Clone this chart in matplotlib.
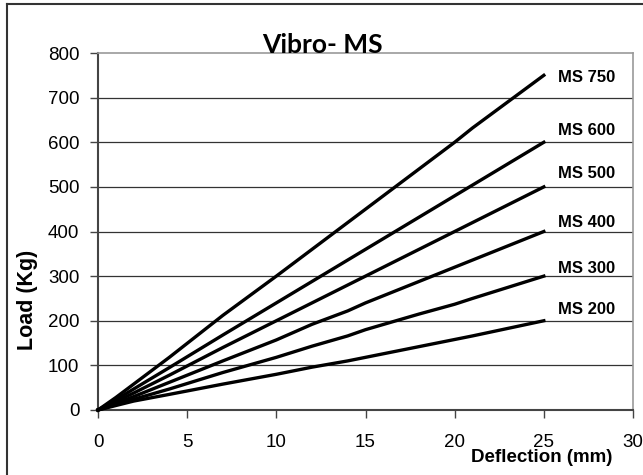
import matplotlib
matplotlib.use("Agg")
import matplotlib.pyplot as plt
from matplotlib.lines import Line2D

plt.rcParams['font.family'] = ['Liberation Sans', 'DejaVu Sans']

# deflection (mm) readings shared by all curves
deflection = [0, 1, 2, 4, 7, 10, 12, 14, 15, 18, 20, 21, 25]

# load (kg) per model
ms750 = [0, 28, 58, 118, 212, 300, 360, 420, 450, 540, 600, 632, 750]
ms600 = [0, 23, 47, 95, 168, 240, 288, 336, 360, 432, 480, 504, 600]
ms500 = [0, 19, 38, 78, 140, 200, 240, 280, 300, 360, 400, 420, 500]
ms400 = [0, 15, 30, 62, 110, 157, 192, 222, 240, 288, 320, 336, 400]
ms300 = [0, 12, 24, 47, 84, 118, 143, 166, 180, 215, 237, 250, 300]
ms200 = [0, 10, 20, 35, 58, 80, 96, 110, 118, 142, 158, 166, 200]

series_names = ['MS 750', 'MS 600', 'MS 500', 'MS 400', 'MS 300', 'MS 200']
series_vals = [ms750, ms600, ms500, ms400, ms300, ms200]
label_y = [746, 626, 529, 420, 316, 226]

x_ticks = [0, 5, 10, 15, 20, 25, 30]
y_ticks = [0, 100, 200, 300, 400, 500, 600, 700, 800]

fig = plt.figure(figsize=(6.43, 4.75), dpi=100)
ax = fig.add_axes([98 / 643, 65 / 475, 535 / 643, 357 / 475])

ax.set_xlim(0, 30)
ax.set_ylim(0, 800)
ax.set_xticks(x_ticks)
ax.set_yticks(y_ticks)

for y in y_ticks[1:-1]:
    ax.axhline(y, color='#333333', lw=0.9, zorder=1)

for name, vals, ly in zip(series_names, series_vals, label_y):
    ax.plot(deflection, vals, color='black', lw=2.4, zorder=3, clip_on=False)
    ax.text(25.8, ly, name, fontsize=12, fontweight='bold', ha='left', va='center')

for side in ['left', 'bottom']:
    ax.spines[side].set_color('#444444')
    ax.spines[side].set_linewidth(1.5)
for side in ['top', 'right']:
    ax.spines[side].set_color('#999999')
    ax.spines[side].set_linewidth(1.2)

ax.tick_params(axis='both', direction='out', length=6, width=1, color='#444444',
               labelsize=13.5, labelcolor='black')
ax.tick_params(axis='x', pad=11)
ax.tick_params(axis='y', pad=7.5)

fig.text(322.5 / 643, (475 - 53) / 475, 'Vibro- MS', family=['Lato', 'DejaVu Sans'],
         fontsize=19, fontweight='bold', ha='center', va='baseline')
fig.text(28 / 643, (475 - 300) / 475, 'Load (Kg)', fontsize=15.5, fontweight='bold',
         rotation=90, ha='center', va='center')
fig.text(541.5 / 643, (475 - 458) / 475, 'Deflection (mm)', fontsize=13.5,
         fontweight='bold', ha='center', va='center')

# outer frame, only left and top edges show in the picture
fig.add_artist(Line2D([6.5 / 643, 6.5 / 643], [0, 1 - 3.5 / 475], color='#333333', lw=1.5))
fig.add_artist(Line2D([6.5 / 643, 1], [1 - 3.5 / 475, 1 - 3.5 / 475], color='#333333', lw=1.5))

fig.savefig('out.png', dpi=100)
